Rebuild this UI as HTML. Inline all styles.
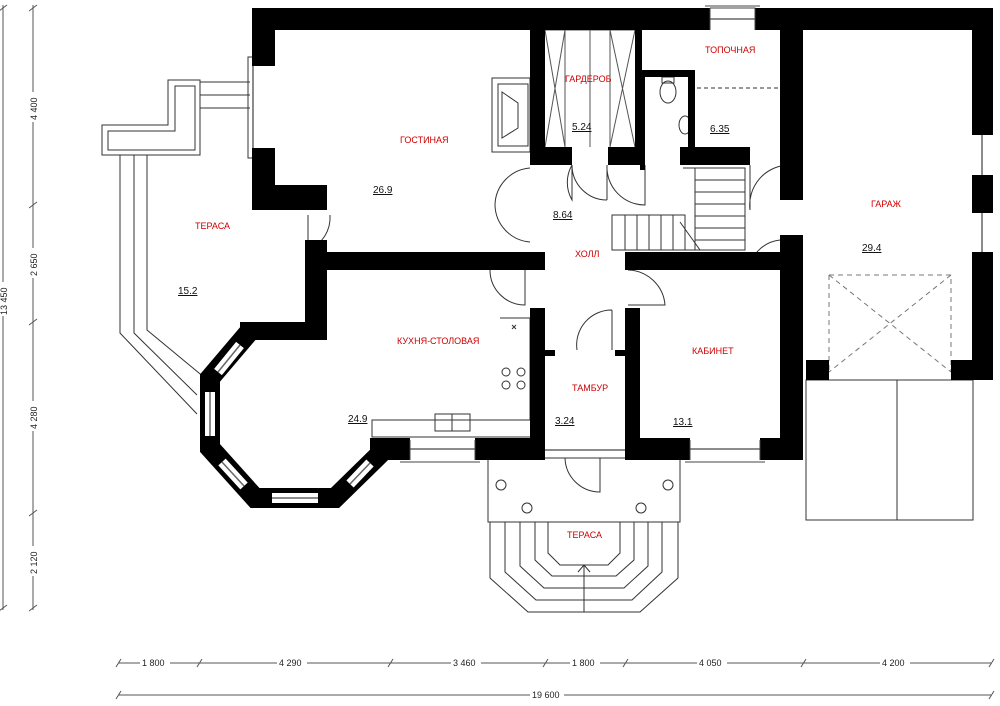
<!DOCTYPE html>
<html><head><meta charset="utf-8"><style>
html,body{margin:0;padding:0;background:#fff}
svg{display:block}
text{font-family:"Liberation Sans",sans-serif}
.r{fill:#c00;font-size:9px}
.n{fill:#111;font-size:10px;text-decoration:underline}
.d{fill:#222;font-size:9px}
</style></head><body>
<svg width="1000" height="706" viewBox="0 0 1000 706" xmlns="http://www.w3.org/2000/svg">
<g fill="none" stroke="#333" stroke-width="1">
<!-- left terrace outline -->
<path d="M168,80 H200 V155 H102 V125 H168 Z"/>
<path d="M175,86 H195 V150 H108 V131 H175 Z"/>
<path d="M200,82 H250 M200,95 H250 M200,108 H250"/>
<rect x="248" y="57" width="5" height="101"/>
<path d="M120,155 V333 L197,414 M134,155 V333 L197,395 M147,155 V330 L205,378"/>
<!-- front terrace -->
<rect x="488" y="458" width="192" height="64"/>
<circle cx="501" cy="485" r="5"/><circle cx="668" cy="485" r="5"/>
<circle cx="527" cy="508" r="5"/><circle cx="641" cy="508" r="5"/>
<path d="M490,522 V578 L528,612 H640 L678,578 V522"/>
<path d="M505,522 V572 L536,600 H632 L662,572 V522"/>
<path d="M520,522 V566 L544,588 H624 L648,566 V522"/>
<path d="M535,522 V560 L552,576 H616 L634,560 V522"/>
<path d="M548,522 V553 L560,565 H608 L620,553 V522"/>
<path d="M584,612 V565 M578,572 L584,565 L590,572"/>
<!-- garage apron -->
<rect x="806" y="380" width="167" height="140"/>
<path d="M897,380 V520"/>
<path d="M829,380 H951"/>
<path d="M829,275 H951 V372 M829,275 V372 M829,275 L951,372 M951,275 L829,372" stroke-dasharray="5,4" stroke="#777"/>
<!-- wardrobe X -->
<path d="M545,30 H635 M565,30 V147 M590,30 V147 M610,30 V147 M545,30 L565,147 M565,30 L545,147 M610,30 L635,147 M635,30 L610,147" stroke="#555"/>
<!-- fireplace -->
<path d="M492,78 H530 V152 H492 Z M498,84 H528 V146 H498 Z M502,92 L518,103 V128 L502,138 Z"/>
<!-- stairs -->
<path d="M612,215 H685 V250 H612 Z M625,215 V250 M637,215 V250 M649,215 V250 M661,215 V250 M673,215 V250"/>
<path d="M683,168 H745 V250 H683 M695,180 H745 M695,192 H745 M695,204 H745 M695,216 H745 M695,228 H745 M695,240 H745 M695,168 V250 M680,222 L700,250"/>
<!-- WC -->
<ellipse cx="668" cy="92" rx="8" ry="11"/><rect x="662" y="77" width="12" height="6"/>
<ellipse cx="685" cy="125" rx="6" ry="9"/>
<path d="M690,88 H800" stroke-dasharray="4,3"/>
<!-- kitchen -->
<path d="M500,318 H530 V420 H372 V437 H530"/>
<circle cx="506" cy="372" r="4"/><circle cx="521" cy="372" r="4"/><circle cx="506" cy="385" r="4"/><circle cx="521" cy="385" r="4"/>
<rect x="435" y="414" width="35" height="17"/><path d="M452,414 V431"/>
<path d="M512,325 l4,4 m0,-4 l-4,4"/>
<!-- doors arcs -->
<path d="M530,168 A38,38 0 0 0 495,205 M530,242 A38,38 0 0 1 495,205"/>
<path d="M572,165 V200 A35,35 0 0 1 572,165"/>
<path d="M607,165 V200 M607,200 A35,35 0 0 1 572,165"/>
<path d="M645,165 V205 A38,38 0 0 1 607,165"/>
<path d="M750,165 V210 A40,40 0 0 1 790,165"/>
<path d="M780,240 A35,35 0 0 0 750,265"/>
<path d="M308,215 V250 A35,35 0 0 0 330,215"/>
<path d="M490,270 A35,35 0 0 0 525,305 V270"/>
<path d="M628,270 A38,38 0 0 1 665,305 H628"/>
<path d="M612,310 A35,35 0 0 0 577,350 M612,310 V350"/>
<path d="M565,458 A35,35 0 0 0 600,492 V458"/>
</g>
<g fill="#000">
<rect x="255" y="8" width="455" height="22"/>
<rect x="755" y="8" width="238" height="22"/>
<rect x="252" y="8" width="23" height="58"/>
<rect x="252" y="148" width="23" height="50"/>
<rect x="252" y="185" width="75" height="25"/>
<rect x="305" y="240" width="22" height="90"/>
<rect x="308" y="252" width="237" height="18"/>
<rect x="530" y="30" width="15" height="135"/>
<rect x="530" y="147" width="42" height="18"/>
<rect x="608" y="147" width="37" height="18"/>
<rect x="635" y="30" width="7" height="135"/>
<rect x="640" y="70" width="55" height="7"/>
<rect x="688" y="70" width="7" height="85"/>
<rect x="640" y="70" width="5" height="100"/>
<rect x="680" y="147" width="70" height="18"/>
<rect x="780" y="8" width="23" height="192"/>
<rect x="780" y="235" width="23" height="225"/>
<rect x="972" y="8" width="21" height="127"/>
<rect x="972" y="175" width="21" height="38"/>
<rect x="972" y="252" width="21" height="128"/>
<rect x="806" y="360" width="23" height="20"/>
<rect x="951" y="360" width="42" height="20"/>
<rect x="625" y="252" width="178" height="18"/>
<rect x="530" y="308" width="15" height="152"/>
<rect x="625" y="308" width="15" height="152"/>
<rect x="545" y="350" width="10" height="6"/>
<rect x="615" y="350" width="10" height="6"/>
<rect x="370" y="438" width="40" height="22"/>
<rect x="475" y="438" width="70" height="22"/>
<rect x="625" y="438" width="65" height="22"/>
<rect x="760" y="438" width="43" height="22"/>
<rect x="240" y="322" width="87" height="18"/>
</g>
<path d="M250,331 L210,378 L210,448 L255,498 L335,498 L382,452" fill="none" stroke="#000" stroke-width="20"/>
<g fill="none" stroke="#fff" stroke-width="10">
<path d="M240,345 L218,372 M210,392 V436 M222,462 L244,486 M272,498 H318 M350,484 L370,463"/>
</g>
<g fill="none" stroke="#666" stroke-width="1.5">
<path d="M240,345 L218,372 M210,392 V436 M222,462 L244,486 M272,498 H318 M350,484 L370,463"/>
<path d="M410,449 H475 M690,449 H760 M545,450 H625 M253,66 V148 M982,135 V175 M982,213 V252 M710,19 H755"/>
</g>
<g fill="none" stroke="#444" stroke-width="1">
<path d="M410,440 V460 M475,440 V460 M690,440 V460 M760,440 V460 M400,462 H480 M685,462 H765"/>
<path d="M710,8 H755 V30 M710,8 V30 M705,6 H760"/>
</g>
<text class="r" x="400" y="143">ГОСТИНАЯ</text>
<text class="r" x="565" y="82">ГАРДЕРОБ</text>
<text class="r" x="705" y="53">ТОПОЧНАЯ</text>
<text class="r" x="871" y="207">ГАРАЖ</text>
<text class="r" x="195" y="229">ТЕРАСА</text>
<text class="r" x="575" y="257">ХОЛЛ</text>
<text class="r" x="397" y="344">КУХНЯ-СТОЛОВАЯ</text>
<text class="r" x="692" y="354">КАБИНЕТ</text>
<text class="r" x="572" y="391">ТАМБУР</text>
<text class="r" x="567" y="538">ТЕРАСА</text>
<text class="n" x="373" y="193">26.9</text>
<text class="n" x="572" y="130">5.24</text>
<text class="n" x="710" y="132">6.35</text>
<text class="n" x="553" y="218">8.64</text>
<text class="n" x="862" y="251">29.4</text>
<text class="n" x="178" y="294">15.2</text>
<text class="n" x="348" y="422">24.9</text>
<text class="n" x="555" y="424">3.24</text>
<text class="n" x="673" y="425">13.1</text>
<g stroke="#555" stroke-width="1" fill="none">
<path d="M3,5 V610 M33,5 V610"/>
<path d="M118,663 H991 M118,695 H991"/>
<path d="M-1,11 l8,-6 M29,11 l8,-6 M29,208 l8,-6 M29,325 l8,-6 M29,516 l8,-6 M29,611 l8,-6 M-1,611 l8,-6"/>
<path d="M116,667 l5,-8 M197,667 l5,-8 M388,667 l5,-8 M543,667 l5,-8 M623,667 l5,-8 M801,667 l5,-8 M989,667 l5,-8 M116,699 l5,-8 M989,699 l5,-8"/>
</g>
<g class="d">
<rect x="26" y="92" width="14" height="30" fill="#fff"/>
<text transform="translate(37,120) rotate(-90)" class="d">4 400</text>
<rect x="26" y="248" width="14" height="30" fill="#fff"/>
<text transform="translate(37,276) rotate(-90)" class="d">2 650</text>
<rect x="26" y="401" width="14" height="30" fill="#fff"/>
<text transform="translate(37,429) rotate(-90)" class="d">4 280</text>
<rect x="26" y="546" width="14" height="30" fill="#fff"/>
<text transform="translate(37,574) rotate(-90)" class="d">2 120</text>
<rect x="0" y="282" width="8" height="34" fill="#fff"/>
<text transform="translate(7,315) rotate(-90)" class="d">13 450</text>
<rect x="140" y="656" width="30" height="12" fill="#fff"/><text x="142" y="666" class="d">1 800</text>
<rect x="277" y="656" width="30" height="12" fill="#fff"/><text x="279" y="666" class="d">4 290</text>
<rect x="451" y="656" width="30" height="12" fill="#fff"/><text x="453" y="666" class="d">3 460</text>
<rect x="570" y="656" width="30" height="12" fill="#fff"/><text x="572" y="666" class="d">1 800</text>
<rect x="697" y="656" width="30" height="12" fill="#fff"/><text x="699" y="666" class="d">4 050</text>
<rect x="880" y="656" width="30" height="12" fill="#fff"/><text x="882" y="666" class="d">4 200</text>
<rect x="530" y="688" width="34" height="12" fill="#fff"/><text x="532" y="698" class="d">19 600</text>
</g>
</svg>
</body></html>
